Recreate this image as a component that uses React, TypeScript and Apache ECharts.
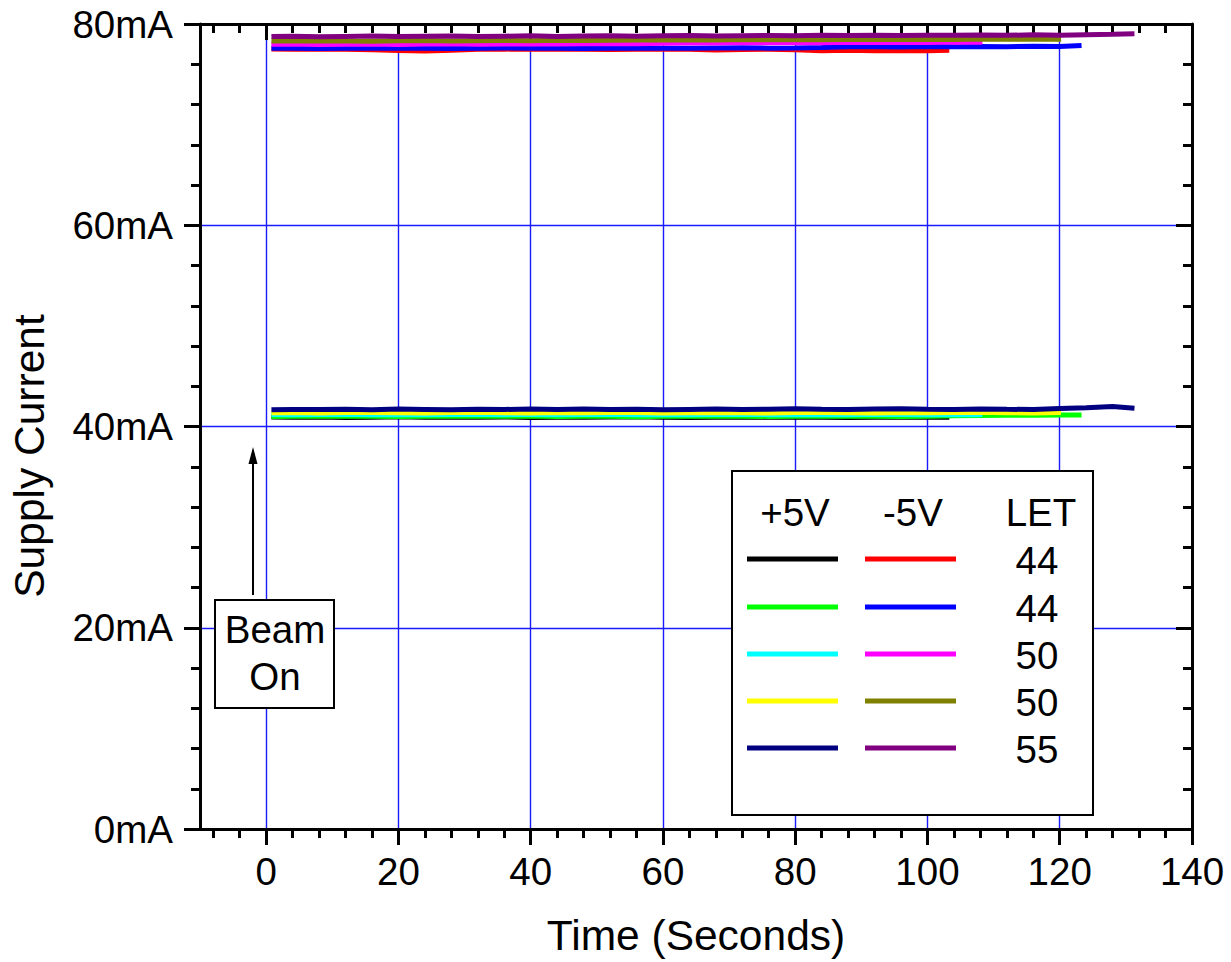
import React, { useEffect, useRef } from "react";
import * as echarts from "echarts";

// ---- data ----
const timeSec = [0.8, 4, 8, 12, 16, 20, 24, 28, 32, 36, 40, 44, 48, 52, 56, 60, 64, 68, 72, 76, 80, 84, 88, 92, 96, 100, 104, 108, 112, 116, 120, 124, 128];
const runEnd = [103.3, 123.3, 108.3, 120.2, 131.3];
const letValues = ["44", "44", "50", "50", "55"];
const plusColors = ["#000000", "#00ff00", "#00ffff", "#ffff00", "#000080"];
const minusColors = ["#ff0000", "#0000ff", "#ff00ff", "#808000", "#800080"];

const plusRun1 = [40.95, 40.92, 40.94, 40.90, 40.93, 40.96, 40.91, 40.94, 40.92, 40.95, 40.90, 40.93, 40.91, 40.94, 40.96, 40.92, 40.90, 40.93, 40.95, 40.91, 40.94, 40.92, 40.90, 40.93, 40.95, 40.92, 40.93];
const minusRun1 = [77.52, 77.50, 77.48, 77.50, 77.45, 77.36, 77.32, 77.38, 77.48, 77.50, 77.52, 77.49, 77.50, 77.47, 77.50, 77.52, 77.48, 77.42, 77.47, 77.50, 77.45, 77.34, 77.40, 77.33, 77.36, 77.35, 77.38];
const plusRun2 = [41.00, 41.03, 41.01, 41.04, 41.02, 40.99, 41.03, 41.05, 41.01, 41.02, 41.04, 41.00, 41.03, 41.01, 40.98, 41.02, 41.04, 41.01, 41.03, 41.00, 41.02, 41.05, 41.01, 41.03, 40.99, 41.02, 41.06, 41.10, 41.12, 41.11, 41.14, 41.15];
const minusRun2 = [77.58, 77.60, 77.57, 77.59, 77.61, 77.58, 77.60, 77.56, 77.59, 77.61, 77.58, 77.60, 77.57, 77.59, 77.62, 77.60, 77.58, 77.61, 77.63, 77.60, 77.62, 77.66, 77.73, 77.75, 77.72, 77.76, 77.74, 77.77, 77.75, 77.78, 77.76, 77.86];
const plusRun3 = [41.20, 41.17, 41.19, 41.22, 41.18, 41.20, 41.16, 41.19, 41.21, 41.18, 41.20, 41.17, 41.19, 41.22, 41.18, 41.20, 41.17, 41.19, 41.21, 41.18, 41.16, 41.20, 41.18, 41.21, 41.19, 41.17, 41.20, 41.18, 41.19];
const minusRun3 = [77.98, 78.01, 77.96, 77.99, 78.02, 77.97, 78.00, 78.03, 77.99, 78.01, 78.04, 78.00, 78.03, 78.06, 78.04, 78.09, 78.12, 78.10, 78.15, 78.13, 78.17, 78.14, 78.18, 78.16, 78.19, 78.17, 78.21, 78.18, 78.20];
const plusRun4 = [41.36, 41.39, 41.35, 41.38, 41.40, 41.36, 41.34, 41.38, 41.41, 41.37, 41.35, 41.39, 41.36, 41.38, 41.40, 41.35, 41.37, 41.39, 41.36, 41.34, 41.38, 41.40, 41.37, 41.35, 41.39, 41.36, 41.38, 41.41, 41.37, 41.35, 41.39, 41.38];
const minusRun4 = [78.32, 78.30, 78.34, 78.31, 78.29, 78.33, 78.35, 78.31, 78.34, 78.36, 78.33, 78.38, 78.35, 78.39, 78.42, 78.40, 78.44, 78.41, 78.45, 78.43, 78.47, 78.44, 78.46, 78.48, 78.45, 78.49, 78.47, 78.50, 78.48, 78.51, 78.49, 78.50];
const plusRun5 = [41.66, 41.70, 41.68, 41.72, 41.67, 41.74, 41.70, 41.66, 41.71, 41.69, 41.75, 41.70, 41.73, 41.68, 41.72, 41.66, 41.70, 41.74, 41.69, 41.72, 41.76, 41.71, 41.68, 41.73, 41.77, 41.72, 41.70, 41.75, 41.71, 41.69, 41.78, 41.86, 41.98, 41.82];
const minusRun5 = [78.76, 78.79, 78.74, 78.77, 78.80, 78.75, 78.78, 78.81, 78.76, 78.79, 78.82, 78.77, 78.80, 78.83, 78.79, 78.82, 78.85, 78.81, 78.84, 78.86, 78.83, 78.87, 78.85, 78.88, 78.86, 78.89, 78.87, 78.90, 78.88, 78.92, 78.89, 78.94, 78.98, 79.02];

const plusRuns = [plusRun1, plusRun2, plusRun3, plusRun4, plusRun5];
const minusRuns = [minusRun1, minusRun2, minusRun3, minusRun4, minusRun5];

const xMajor = [0, 20, 40, 60, 80, 100, 120, 140];
const xMinor = [-8, -4, 4, 8, 12, 16, 24, 28, 32, 36, 44, 48, 52, 56, 64, 68, 72, 76, 84, 88, 92, 96, 104, 108, 112, 116, 124, 128, 132, 136];

const FONT = "'Liberation Sans', Arial, Helvetica, sans-serif";
const TXT = 38.5;
const NAME = 42.5;

function toPairs(vals: number[], end: number) {
  return vals.map((v, i) => [i === vals.length - 1 ? end : timeSec[i], v]);
}

export default function App() {
  const ref = useRef<HTMLDivElement>(null);
  useEffect(() => {
    if (!ref.current) return;
    const chart = echarts.init(ref.current, null, { renderer: "svg" });

    const series: any[] = [];
    for (let k = 0; k < 5; k++) {
      series.push({
        type: "line",
        name: "+5V LET " + letValues[k],
        data: toPairs(plusRuns[k], runEnd[k]),
        showSymbol: false,
        symbol: "none",
        lineStyle: { color: plusColors[k], width: 5 },
        itemStyle: { color: plusColors[k] },
      });
      series.push({
        type: "line",
        name: "-5V LET " + letValues[k],
        data: toPairs(minusRuns[k], runEnd[k]),
        showSymbol: false,
        symbol: "none",
        lineStyle: { color: minusColors[k], width: 5 },
        itemStyle: { color: minusColors[k] },
      });
    }

    const axisLineStyle = { color: "#000", width: 3 };
    const tickStyle = { color: "#000", width: 3 };
    const gridStyle = { color: "#1a1aff", width: 1.4 };

    const rowY = [559, 607, 654, 701, 748];
    const txt = (text: string, x: number, y: number) => ({
      type: "text", x, y, z: 101,
      style: { text, fontSize: TXT, fontFamily: FONT, fill: "#000", align: "center", verticalAlign: "middle" },
    });
    const legendEls: any[] = [
      { type: "rect", shape: { x: 732, y: 471, width: 361, height: 344 }, style: { fill: "#fff", stroke: "#000", lineWidth: 2 }, z: 100 },
      txt("+5V", 795, 512),
      txt("-5V", 913, 512),
      txt("LET", 1041, 512),
    ];
    for (let k = 0; k < 5; k++) {
      legendEls.push({ type: "line", shape: { x1: 747, y1: rowY[k], x2: 838, y2: rowY[k] }, style: { stroke: plusColors[k], lineWidth: 5 }, z: 101 });
      legendEls.push({ type: "line", shape: { x1: 865, y1: rowY[k], x2: 956, y2: rowY[k] }, style: { stroke: minusColors[k], lineWidth: 5 }, z: 101 });
      legendEls.push(txt(letValues[k], 1037, rowY[k] + 1));
    }

    const option: any = {
      animation: false,
      backgroundColor: "#fff",
      grid: { left: 200, top: 24, right: 39, bottom: 131, containLabel: false },
      xAxis: [
        {
          type: "value", position: "bottom", min: -10, max: 140,
          axisLine: { show: true, onZero: false, lineStyle: axisLineStyle },
          axisTick: { show: true, customValues: xMajor, length: 16, lineStyle: tickStyle },
          axisLabel: { show: true, customValues: xMajor, fontSize: TXT, fontFamily: FONT, color: "#000", margin: 23 },
          splitLine: { show: true, lineStyle: gridStyle },
          name: "Time (Seconds)", nameLocation: "middle", nameGap: 85,
          nameTextStyle: { fontSize: NAME, fontFamily: FONT, color: "#000" },
        },
        {
          type: "value", position: "top", min: -10, max: 140,
          axisLine: { show: true, onZero: false, lineStyle: axisLineStyle },
          axisTick: { show: true, inside: true, customValues: xMajor, length: 16, lineStyle: tickStyle },
          axisLabel: { show: false },
          splitLine: { show: false },
        },
        {
          type: "value", position: "bottom", min: -10, max: 140,
          axisLine: { show: false, onZero: false },
          axisTick: { show: true, customValues: xMinor, length: 9, lineStyle: tickStyle },
          axisLabel: { show: false },
          splitLine: { show: false },
        },
        {
          type: "value", position: "top", min: -10, max: 140,
          axisLine: { show: false, onZero: false },
          axisTick: { show: true, inside: true, customValues: xMinor, length: 9, lineStyle: tickStyle },
          axisLabel: { show: false },
          splitLine: { show: false },
        },
      ],
      yAxis: [
        {
          type: "value", position: "left", min: 0, max: 80, interval: 20,
          axisLine: { show: true, onZero: false, lineStyle: axisLineStyle },
          axisTick: { show: true, length: 16, lineStyle: tickStyle },
          minorTick: { show: true, splitNumber: 5, length: 9, lineStyle: tickStyle },
          axisLabel: { formatter: "{value}mA", fontSize: TXT, fontFamily: FONT, color: "#000", margin: 27 },
          splitLine: { show: true, lineStyle: gridStyle },
        },
        {
          type: "value", position: "right", min: 0, max: 80, interval: 20,
          axisLine: { show: true, onZero: false, lineStyle: axisLineStyle },
          axisTick: { show: true, inside: true, length: 16, lineStyle: tickStyle },
          minorTick: { show: true, splitNumber: 5, length: 9, lineStyle: tickStyle },
          axisLabel: { show: false },
          splitLine: { show: false },
        },
      ],
      series,
      graphic: [
        {
          type: "text", x: 29, y: 456, rotation: Math.PI / 2,
          style: { text: "Supply Current", fontSize: NAME, fontFamily: FONT, fill: "#000", align: "center", verticalAlign: "middle" },
        },
        { type: "line", shape: { x1: 253, y1: 595, x2: 253, y2: 460 }, style: { stroke: "#000", lineWidth: 2 }, z: 100 },
        { type: "polygon", shape: { points: [[253, 447], [248.5, 464], [257.5, 464]] }, style: { fill: "#000" }, z: 100 },
        { type: "rect", shape: { x: 215, y: 600, width: 119, height: 108 }, style: { fill: "#fff", stroke: "#000", lineWidth: 2 }, z: 100 },
        txt("Beam", 275, 629),
        txt("On", 275, 676),
        ...legendEls,
      ],
    };
    chart.setOption(option);
    return () => chart.dispose();
  }, []);
  return (
    <div
      ref={ref}
      style={{ position: "fixed", left: 0, top: 0, width: 1231, height: 962, background: "#fff" }}
    />
  );
}
